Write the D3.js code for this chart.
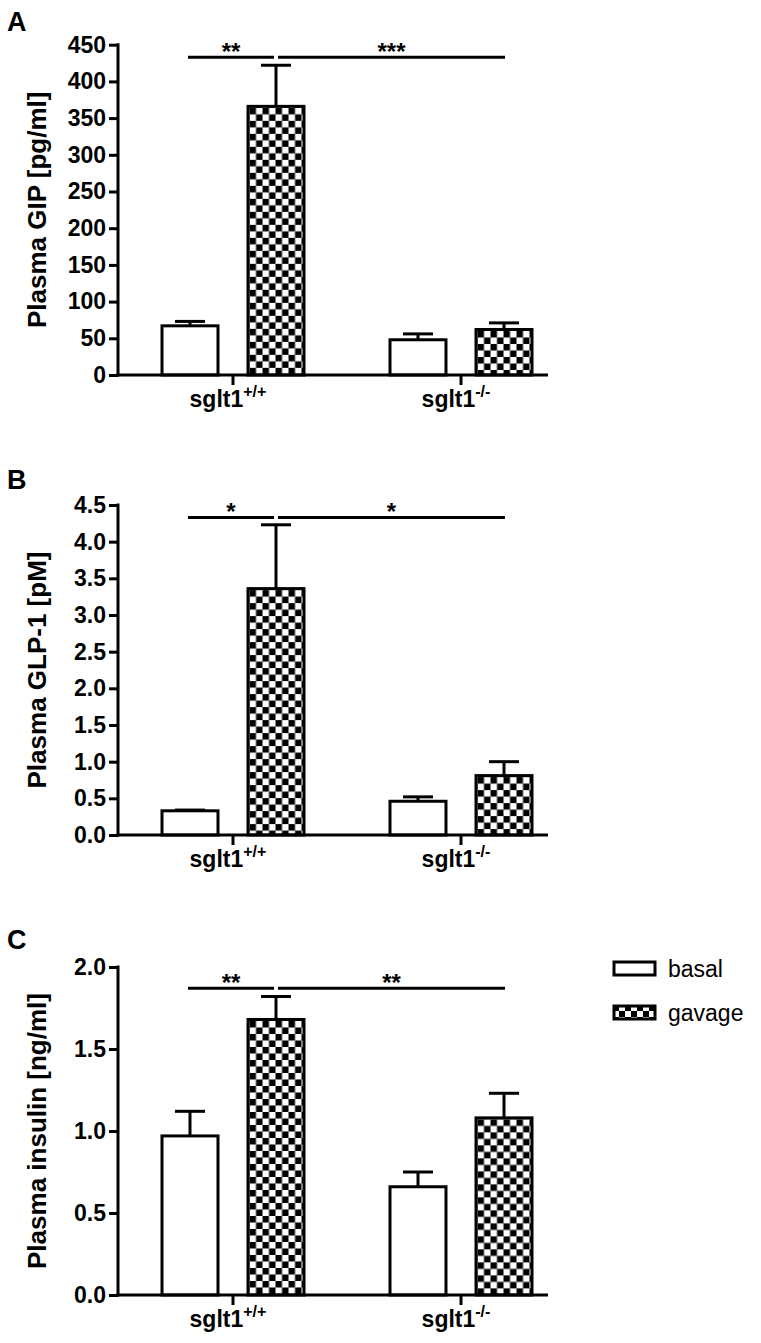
<!DOCTYPE html>
<html>
<head>
<meta charset="utf-8">
<script src="https://cdn.jsdelivr.net/npm/d3@7"></script>
<style>
  html, body { margin: 0; padding: 0; background: #fff; }
  svg { display: block; }
  text { font-family: "Liberation Sans", Arial, Helvetica, sans-serif; fill: #000; }
</style>
</head>
<body>
<svg id="chart" width="761" height="1343"></svg>
<script>
// ---------------- data ----------------
const groupBase = ["sglt1", "sglt1"];
const groupSup = ["+/+", "-/-"];
const groups = ["wt", "ko"];
const seriesNames = ["basal", "gavage"];

// Panel A: Plasma GIP [pg/ml]
const gipBasal = [67, 48];
const gipBasalErr = [6, 8];
const gipGavage = [366, 62];
const gipGavageErr = [56, 9];
const gipTicks = [0, 50, 100, 150, 200, 250, 300, 350, 400, 450];
const gipStars = ["**", "***"];

// Panel B: Plasma GLP-1 [pM]
const glpBasal = [0.33, 0.46];
const glpBasalErr = [0.01, 0.06];
const glpGavage = [3.36, 0.81];
const glpGavageErr = [0.87, 0.19];
const glpTicks = [0, 0.5, 1.0, 1.5, 2.0, 2.5, 3.0, 3.5, 4.0, 4.5];
const glpStars = ["*", "*"];

// Panel C: Plasma insulin [ng/ml]
const insBasal = [0.97, 0.66];
const insBasalErr = [0.15, 0.09];
const insGavage = [1.68, 1.08];
const insGavageErr = [0.14, 0.15];
const insTicks = [0, 0.5, 1.0, 1.5, 2.0];
const insStars = ["**", "**"];

const panels = [
  { letter: "A", title: "Plasma GIP [pg/ml]", basal: gipBasal, basalErr: gipBasalErr,
    gavage: gipGavage, gavageErr: gipGavageErr, ticks: gipTicks, fmt: d3.format("d"),
    max: 450, stars: gipStars, sigVal: 433, y0: 375, yTop: 44.7, letterY: 31 },
  { letter: "B", title: "Plasma GLP-1 [pM]", basal: glpBasal, basalErr: glpBasalErr,
    gavage: glpGavage, gavageErr: glpGavageErr, ticks: glpTicks, fmt: d3.format(".1f"),
    max: 4.5, stars: glpStars, sigVal: 4.33, y0: 835, yTop: 505, letterY: 489 },
  { letter: "C", title: "Plasma insulin [ng/ml]", basal: insBasal, basalErr: insBasalErr,
    gavage: insGavage, gavageErr: insGavageErr, ticks: insTicks, fmt: d3.format(".1f"),
    max: 2.0, stars: insStars, sigVal: 1.87, y0: 1295, yTop: 967, letterY: 949 }
];

// ---------------- layout ----------------
const svg = d3.select("#chart");
const defs = svg.append("defs");
const axisX = 118;
const axisRight = 548;
const SW = 3;

const x0 = d3.scaleBand().domain(groups).range([119, 575]).paddingInner(0).paddingOuter(0);
const x1 = d3.scaleBand().domain(seriesNames).range([0, x0.bandwidth()]).paddingInner(0.349).paddingOuter(0.5);

let patCount = 0;
function checker(px, py, cell) {
  const id = "chk" + (patCount++);
  const p = defs.append("pattern").attr("id", id)
    .attr("patternUnits", "userSpaceOnUse")
    .attr("x", px).attr("y", py)
    .attr("width", cell * 2).attr("height", cell * 2);
  p.append("rect").attr("width", cell * 2).attr("height", cell * 2).attr("fill", "#fff");
  p.append("rect").attr("x", 0).attr("y", 0).attr("width", cell).attr("height", cell).attr("fill", "#000");
  p.append("rect").attr("x", cell).attr("y", cell).attr("width", cell).attr("height", cell).attr("fill", "#000");
  return "url(#" + id + ")";
}

panels.forEach(P => {
  const g = svg.append("g");
  const y = d3.scaleLinear().domain([0, P.max]).range([P.y0, P.yTop]);

  // panel letter
  g.append("text").attr("x", 7).attr("y", P.letterY)
    .attr("font-size", 27).attr("font-weight", "bold").text(P.letter);

  // y axis
  const ya = g.append("g").attr("transform", `translate(${axisX},0)`)
    .call(d3.axisLeft(y).tickValues(P.ticks).tickFormat(P.fmt).tickSize(9).tickSizeOuter(0).tickPadding(3));
  ya.select(".domain").attr("stroke", "#000").attr("stroke-width", SW)
    .attr("d", `M0,${P.y0 + SW / 2}V${P.yTop - SW / 2}`);
  ya.selectAll(".tick line").attr("stroke", "#000").attr("stroke-width", SW);
  ya.selectAll(".tick text").attr("font-size", 23).attr("font-weight", "bold")
    .attr("font-family", "Liberation Sans, Arial, sans-serif").attr("fill", "#000");

  // y title
  g.append("text")
    .attr("transform", `translate(46,${(P.y0 + P.yTop) / 2}) rotate(-90)`)
    .attr("text-anchor", "middle").attr("font-size", 26).attr("font-weight", "bold")
    .text(P.title);

  // bars
  groups.forEach((grp, gi) => {
    seriesNames.forEach(s => {
      const val = s === "basal" ? P.basal[gi] : P.gavage[gi];
      const err = s === "basal" ? P.basalErr[gi] : P.gavageErr[gi];
      const bx = x0(grp) + x1(s);
      const bw = x1.bandwidth();
      const cx = bx + bw / 2;
      const top = y(val);
      // error bar (upwards only)
      g.append("line").attr("x1", cx).attr("x2", cx).attr("y1", top).attr("y2", y(val + err))
        .attr("stroke", "#000").attr("stroke-width", SW);
      g.append("line").attr("x1", cx - 15).attr("x2", cx + 15).attr("y1", y(val + err)).attr("y2", y(val + err))
        .attr("stroke", "#000").attr("stroke-width", SW);
      const fill = s === "basal" ? "#fff" : checker(bx + SW / 2, top + SW / 2, 6.5);
      g.append("rect").attr("x", bx).attr("y", top).attr("width", bw).attr("height", P.y0 - top)
        .attr("fill", fill).attr("stroke", "#000").attr("stroke-width", SW);
    });
  });

  // x axis
  const xa = g.append("g").attr("transform", `translate(0,${P.y0})`)
    .call(d3.axisBottom(x0).tickSize(10).tickSizeOuter(0).tickFormat(""));
  xa.select(".domain").attr("stroke", "#000").attr("stroke-width", SW)
    .attr("d", `M${axisX - SW / 2},0H${axisRight}`);
  xa.selectAll(".tick line").attr("stroke", "#000").attr("stroke-width", SW);

  // x labels with superscripts
  groups.forEach((grp, gi) => {
    const cx = x0(grp) + x0.bandwidth() / 2;
    const t = g.append("text").attr("x", cx - 5).attr("y", P.y0 + 32)
      .attr("text-anchor", "middle").attr("font-size", 23).attr("font-weight", "bold");
    t.append("tspan").text(groupBase[gi]);
    t.append("tspan").attr("dy", -10).attr("font-size", 16).text(groupSup[gi]);
  });

  // significance lines
  const cWB = x0(groups[0]) + x1("basal") + x1.bandwidth() / 2;
  const cWG = x0(groups[0]) + x1("gavage") + x1.bandwidth() / 2;
  const cKG = x0(groups[1]) + x1("gavage") + x1.bandwidth() / 2;
  const sy = y(P.sigVal);
  const segs = [[cWB - 2, cWG - 2], [cWG + 2, cKG + 1]];
  segs.forEach((sg, i) => {
    g.append("line").attr("x1", sg[0]).attr("x2", sg[1]).attr("y1", sy).attr("y2", sy)
      .attr("stroke", "#000").attr("stroke-width", SW);
    g.append("text").attr("x", (sg[0] + sg[1]) / 2).attr("y", sy + 3)
      .attr("text-anchor", "middle").attr("font-size", 24).attr("font-weight", "bold")
      .text(P.stars[i]);
  });
});

// legend
const lg = svg.append("g");
const legY = [962, 1006];
seriesNames.forEach((s, i) => {
  const fill = s === "basal" ? "#fff" : checker(613, legY[i] - 1, 6);
  lg.append("rect").attr("x", 614).attr("y", legY[i]).attr("width", 41).attr("height", 13)
    .attr("fill", fill).attr("stroke", "#000").attr("stroke-width", SW);
  lg.append("text").attr("x", 668).attr("y", legY[i] + 15).attr("font-size", 23).text(s);
});
</script>
</body>
</html>
